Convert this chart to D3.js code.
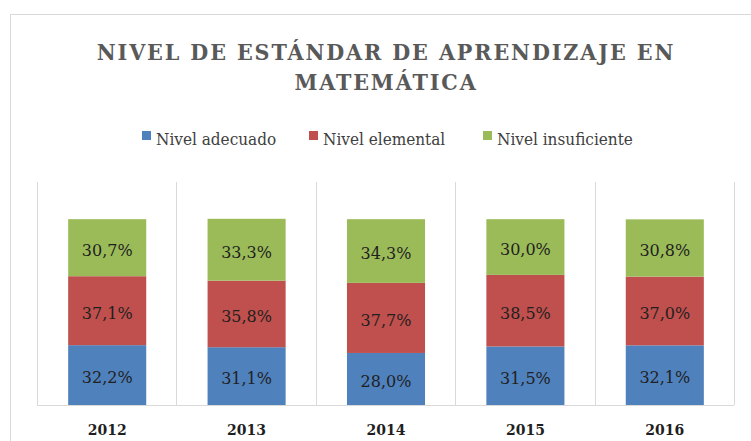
<!DOCTYPE html>
<html>
<head>
<meta charset="utf-8">
<script src="https://cdn.jsdelivr.net/npm/d3@7"></script>
<style>
  body { margin: 0; background: #fff; }
</style>
</head>
<body>
<div id="chart"></div>
<script>
// data
var years = ["2012", "2013", "2014", "2015", "2016"];
var seriesNames = ["Nivel adecuado", "Nivel elemental", "Nivel insuficiente"];
var adecuado = [32.2, 31.1, 28.0, 31.5, 32.1];
var elemental = [37.1, 35.8, 37.7, 38.5, 37.0];
var insuficiente = [30.7, 33.3, 34.3, 30.0, 30.8];
var colors = ["#4f81bd", "#c0504d", "#9bbb59"];

var width = 751, height = 441;

var svg = d3.select("#chart")
    .append("svg")
    .attr("width", width)
    .attr("height", height);

// chart border
svg.append("rect")
    .attr("x", 10.5)
    .attr("y", 14.5)
    .attr("width", 800)
    .attr("height", 500)
    .attr("fill", "none")
    .attr("stroke", "#d9d9d9");

// title
var title = svg.append("text")
    .attr("text-anchor", "middle")
    .style("font-family", "'DejaVu Serif Condensed', 'DejaVu Serif', serif")
    .style("font-weight", "bold")
    .style("font-size", "23px")
    .style("letter-spacing", "1.9px")
    .style("fill", "#595959");
title.append("tspan").attr("x", 386).attr("y", 60).text("NIVEL DE ESTÁNDAR DE APRENDIZAJE EN");
title.append("tspan").attr("x", 386).attr("y", 90).text("MATEMÁTICA");

// legend
var legendX = [142, 309, 483];
var legend = svg.selectAll(".legend")
    .data(seriesNames)
    .enter()
    .append("g")
    .attr("class", "legend")
    .attr("transform", function (d, i) { return "translate(" + legendX[i] + ",131)"; });

legend.append("rect")
    .attr("width", 9)
    .attr("height", 9)
    .attr("fill", function (d, i) { return colors[i]; });

legend.append("text")
    .attr("x", 14)
    .attr("y", 14)
    .style("font-family", "'DejaVu Serif Condensed', 'DejaVu Serif', serif")
    .style("font-size", "17px")
    .style("fill", "#404040")
    .text(function (d) { return d; });

// plot area
var margin = { left: 37, right: 734, top: 182, bottom: 405 };

var xScale = d3.scaleBand()
    .domain(years)
    .range([margin.left, margin.right])
    .paddingInner(0)
    .paddingOuter(0);

var yScale = d3.scaleLinear()
    .domain([0, 120])
    .range([margin.bottom, margin.top]);

// category separators
svg.selectAll(".sep")
    .data(d3.range(years.length + 1))
    .enter()
    .append("line")
    .attr("x1", function (i) { return Math.round(margin.left + i * xScale.bandwidth()) + 0.5; })
    .attr("x2", function (i) { return Math.round(margin.left + i * xScale.bandwidth()) + 0.5; })
    .attr("y1", margin.top)
    .attr("y2", margin.bottom)
    .attr("stroke", "#d9d9d9");

// stack
var rows = years.map(function (y, i) {
    return { year: y, a: adecuado[i], e: elemental[i], s: insuficiente[i] };
});
var stack = d3.stack().keys(["a", "e", "s"]);
var layers = stack(rows);

var barW = xScale.bandwidth() * 0.56;

var groups = svg.selectAll(".layer")
    .data(layers)
    .enter()
    .append("g")
    .attr("class", "layer")
    .attr("fill", function (d, i) { return colors[i]; });

groups.selectAll("rect")
    .data(function (d) { return d; })
    .enter()
    .append("rect")
    .attr("x", function (d) { return xScale(d.data.year) + xScale.bandwidth() / 2 - barW / 2 + 0.5; })
    .attr("y", function (d) { return yScale(d[1]); })
    .attr("width", barW)
    .attr("height", function (d) { return yScale(d[0]) - yScale(d[1]); });

// value labels
groups.selectAll("text")
    .data(function (d) { return d; })
    .enter()
    .append("text")
    .attr("x", function (d) { return xScale(d.data.year) + xScale.bandwidth() / 2 + 0.5; })
    .attr("y", function (d) { return (yScale(d[0]) + yScale(d[1])) / 2 + 8; })
    .attr("text-anchor", "middle")
    .style("font-family", "'DejaVu Serif', serif")
    .style("font-size", "16px")
    .style("fill", "#1f1f1f")
    .text(function (d) { return (d[1] - d[0]).toFixed(1).replace(".", ",") + "%"; });

// x axis
svg.append("line")
    .attr("x1", margin.left)
    .attr("x2", margin.right)
    .attr("y1", margin.bottom + 0.5)
    .attr("y2", margin.bottom + 0.5)
    .attr("stroke", "#d9d9d9");

svg.selectAll(".year")
    .data(years)
    .enter()
    .append("text")
    .attr("x", function (d) { return xScale(d) + xScale.bandwidth() / 2 + 0.5; })
    .attr("y", 434.5)
    .attr("text-anchor", "middle")
    .style("font-family", "'DejaVu Serif', serif")
    .style("font-weight", "bold")
    .style("font-size", "14px")
    .style("fill", "#1f1f1f")
    .text(function (d) { return d; });
</script>
</body>
</html>
